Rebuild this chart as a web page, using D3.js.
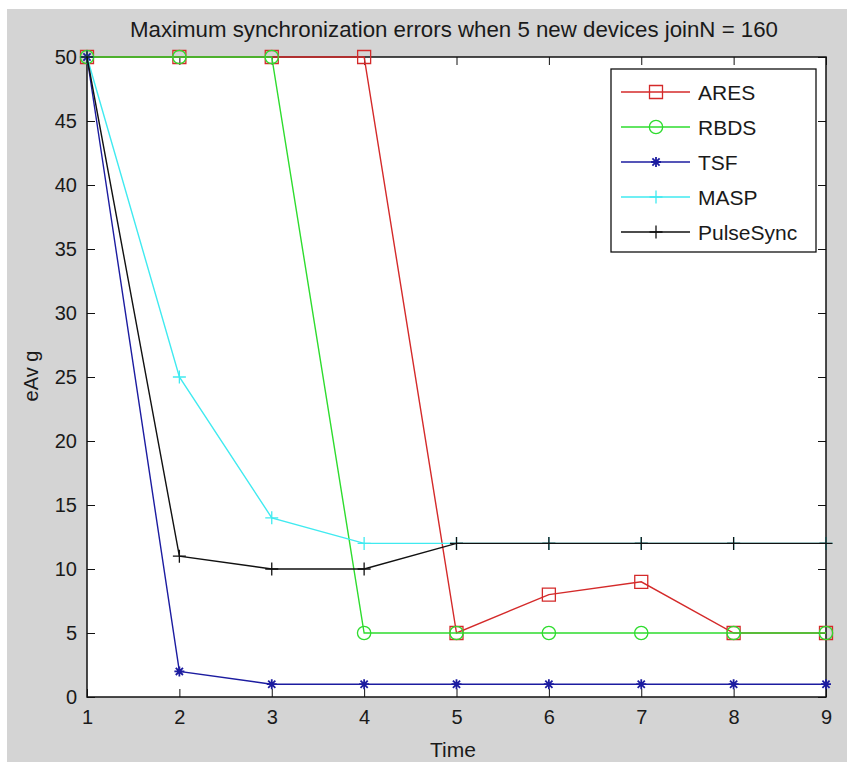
<!DOCTYPE html>
<html>
<head>
<meta charset="utf-8">
<script src="https://cdn.jsdelivr.net/npm/d3@7"></script>
<style>
  html, body { margin: 0; padding: 0; background: #ffffff; }
  svg { display: block; }
  text { font-family: "Liberation Sans", Arial, Helvetica, sans-serif; fill: #1a1a1a; }
</style>
</head>
<body>
<svg id="chart" width="847" height="762"></svg>
<script>
// ---- data ----
const times = [1, 2, 3, 4, 5, 6, 7, 8, 9];
const aresValues = [50, 50, 50, 50, 5, 8, 9, 5, 5];
const rbdsValues = [50, 50, 50, 5, 5, 5, 5, 5, 5];
const tsfValues = [50, 2, 1, 1, 1, 1, 1, 1, 1];
const maspValues = [50, 25, 14, 12, 12, 12, 12, 12, 12];
const pulseSyncValues = [50, 11, 10, 10, 12, 12, 12, 12, 12];
const seriesNames = ["ARES", "RBDS", "TSF", "MASP", "PulseSync"];
const xTicks = [1, 2, 3, 4, 5, 6, 7, 8, 9];
const yTicks = [0, 5, 10, 15, 20, 25, 30, 35, 40, 45, 50];
const titleText = "Maximum synchronization errors when 5 new devices joinN = 160";
const xLabel = "Time";
const yLabel = "eAv g";

// ---- styles ----
const seriesStyle = {
  "ARES": { color: "#d42a2a", marker: "square" },
  "RBDS": { color: "#2edc2e", marker: "circle" },
  "TSF": { color: "#1c1ca0", marker: "star" },
  "MASP": { color: "#40eaf0", marker: "plus" },
  "PulseSync": { color: "#111111", marker: "plus" }
};
const seriesValues = {
  "ARES": aresValues, "RBDS": rbdsValues, "TSF": tsfValues,
  "MASP": maspValues, "PulseSync": pulseSyncValues
};

const svg = d3.select("#chart");
const W = 847, H = 762;
const m = { left: 87, right: 826, top: 57, bottom: 697 };

// figure background
svg.append("rect").attr("x", 7).attr("y", 9).attr("width", W - 7).attr("height", H - 9)
  .attr("fill", "#d4d4d4");
// axes background
svg.append("rect").attr("x", m.left).attr("y", m.top)
  .attr("width", m.right - m.left).attr("height", m.bottom - m.top).attr("fill", "#ffffff");

const x = d3.scaleLinear().domain([1, 9]).range([m.left, m.right]);
const y = d3.scaleLinear().domain([0, 50]).range([m.bottom, m.top]);

function styleAxis(g) {
  g.select(".domain").remove();
  g.selectAll(".tick line").attr("stroke", "#111").attr("stroke-width", 1);
  g.selectAll(".tick text").attr("font-size", 20)
    .attr("font-family", "'Liberation Sans', Arial, sans-serif").attr("fill", "#1a1a1a");
}

svg.append("g").attr("transform", `translate(0,${m.bottom})`)
  .call(d3.axisBottom(x).tickValues(xTicks).tickFormat(d3.format("d"))
    .tickSizeInner(-8).tickSizeOuter(0).tickPadding(13))
  .call(styleAxis);
svg.append("g").attr("transform", `translate(0,${m.top})`)
  .call(d3.axisTop(x).tickValues(xTicks).tickFormat("")
    .tickSizeInner(-8).tickSizeOuter(0))
  .call(styleAxis);
svg.append("g").attr("transform", `translate(${m.left},0)`)
  .call(d3.axisLeft(y).tickValues(yTicks).tickFormat(d3.format("d"))
    .tickSizeInner(-8).tickSizeOuter(0).tickPadding(10))
  .call(styleAxis);
svg.append("g").attr("transform", `translate(${m.right},0)`)
  .call(d3.axisRight(y).tickValues(yTicks).tickFormat("")
    .tickSizeInner(-8).tickSizeOuter(0))
  .call(styleAxis);

// box
svg.append("rect").attr("x", m.left).attr("y", m.top)
  .attr("width", m.right - m.left).attr("height", m.bottom - m.top)
  .attr("fill", "none").attr("stroke", "#111").attr("stroke-width", 1.5);

// marker path generators
function markerPath(type) {
  if (type === "square") return "M-6.5,-6.5H6.5V6.5H-6.5Z";
  if (type === "circle") return d3.symbol(d3.symbolCircle, 140)();
  if (type === "plus") return "M-6.5,0H6.5M0,-6.5V6.5";
  if (type === "star") return "M-5,0H5M0,-5V5M-3.6,-3.6L3.6,3.6M-3.6,3.6L3.6,-3.6";
  return "";
}

const line = d3.line().x(d => x(d[0])).y(d => y(d[1]));
const plot = svg.append("g");
seriesNames.forEach(name => {
  const st = seriesStyle[name];
  const pts = times.map((t, i) => [t, seriesValues[name][i]]);
  plot.append("path").datum(pts).attr("d", line)
    .attr("fill", "none").attr("stroke", st.color).attr("stroke-width", 1.4);
  plot.selectAll(null).data(pts).enter().append("path")
    .attr("transform", d => `translate(${x(d[0])},${y(d[1])})`)
    .attr("d", markerPath(st.marker))
    .attr("fill", "none").attr("stroke", st.color)
    .attr("stroke-width", st.marker === "star" ? 1.8 : 1.3);
});

// legend
const lg = svg.append("g");
lg.append("rect").attr("x", 611).attr("y", 69).attr("width", 205).attr("height", 183)
  .attr("fill", "#ffffff").attr("stroke", "#111").attr("stroke-width", 1.3);
seriesNames.forEach((name, i) => {
  const st = seriesStyle[name];
  const yy = 92 + i * 35;
  lg.append("line").attr("x1", 621).attr("x2", 690).attr("y1", yy).attr("y2", yy)
    .attr("stroke", st.color).attr("stroke-width", 1.4);
  lg.append("path").attr("transform", `translate(656,${yy})`).attr("d", markerPath(st.marker))
    .attr("fill", "none").attr("stroke", st.color).attr("stroke-width", st.marker === "star" ? 1.8 : 1.3);
  lg.append("text").attr("x", 698).attr("y", yy).attr("dy", "0.36em")
    .attr("font-size", 21).text(name);
});

// title and labels
svg.append("text").attr("x", 454).attr("y", 37).attr("text-anchor", "middle")
  .attr("font-size", 22).attr("textLength", 648).attr("lengthAdjust", "spacingAndGlyphs")
  .text(titleText);
svg.append("text").attr("x", 453).attr("y", 757).attr("text-anchor", "middle")
  .attr("font-size", 21).text(xLabel);
svg.append("text").attr("transform", "translate(38,376) rotate(-90)")
  .attr("text-anchor", "middle").attr("font-size", 20).text(yLabel);
</script>
</body>
</html>
